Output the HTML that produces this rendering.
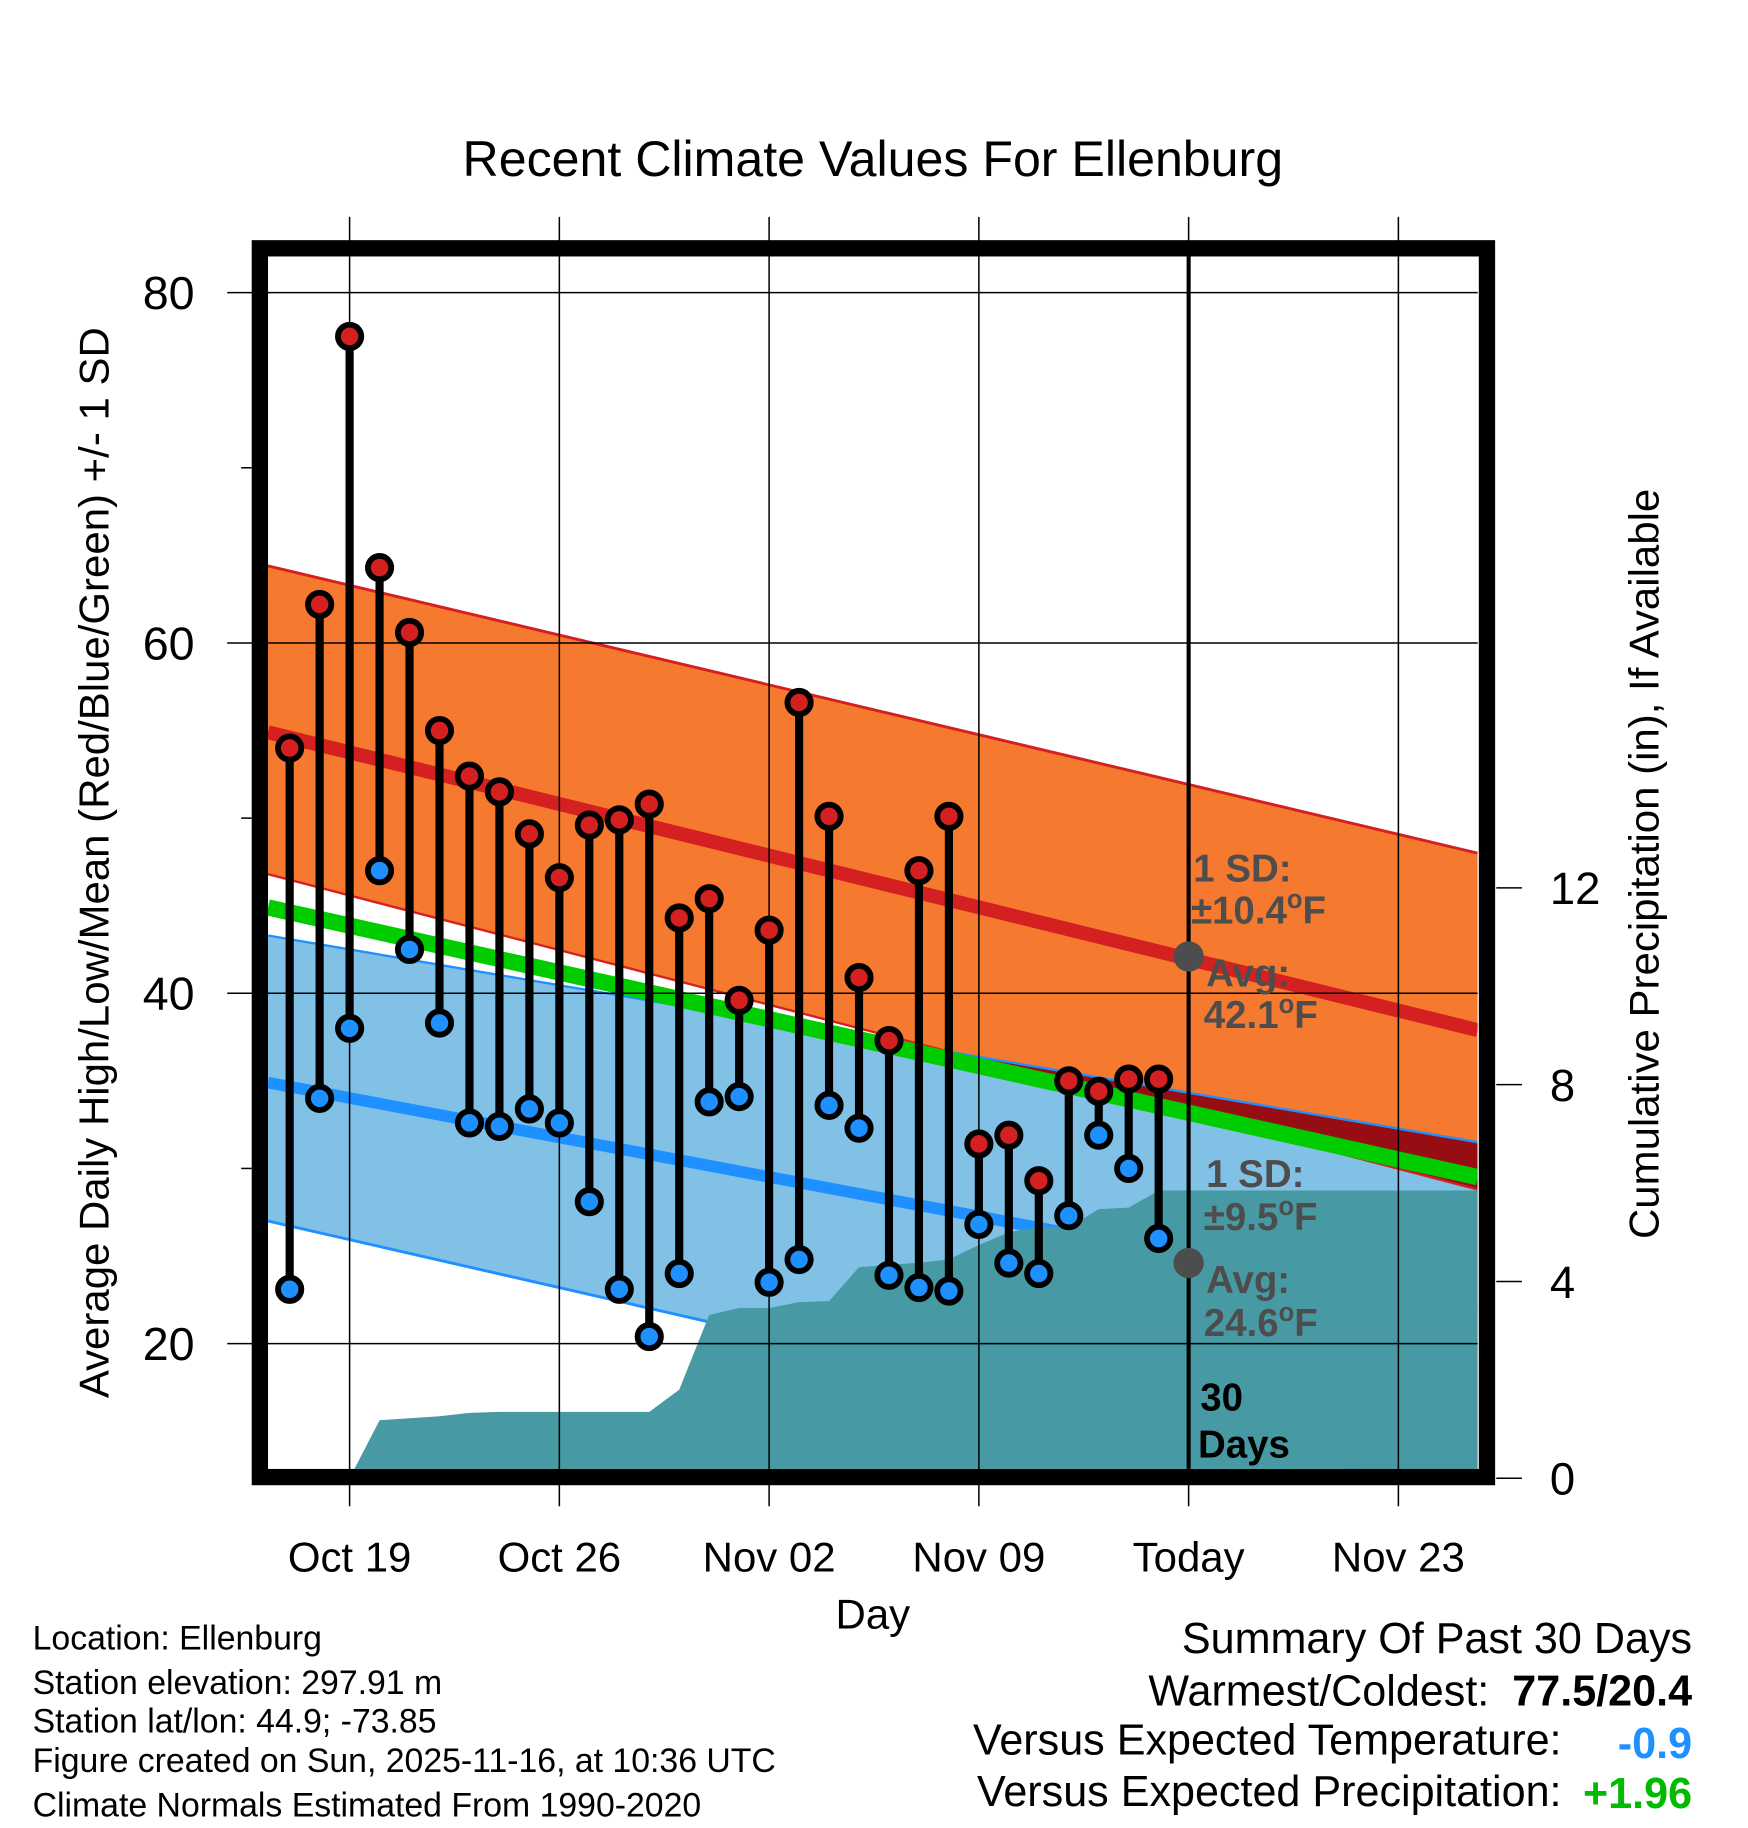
<!DOCTYPE html>
<html><head><meta charset="utf-8"><style>
html,body{margin:0;padding:0;background:#fff}
svg{display:block;font-family:"Liberation Sans",Arial,sans-serif}
</style></head><body>
<svg id="chart" width="1748" height="1828" viewBox="0 0 1500 1568" preserveAspectRatio="none" xmlns="http://www.w3.org/2000/svg">
<defs><clipPath id="plotclip"><rect x="230" y="220" width="1038" height="1040"/></clipPath></defs>
<text x="749" y="151" font-size="43" text-anchor="middle">Recent Climate Values For Ellenburg</text>
<g id="bands" clip-path="url(#plotclip)"></g>
<g id="grid"></g>
<g id="marks" clip-path="url(#plotclip)"></g>
<g id="frame"></g>
<g id="labels"></g>
</svg>
<script>
const dayLabels = ["Oct 19","Oct 26","Nov 02","Nov 09","Today","Nov 23"];
const dayTicks = [0,7,14,21,28,35];
const tempTicks = [80,60,40,20];
const tempMinor = [70,50,30];
const precipTicks = [0,4,8,12];
const obsDays = [-2,-1,0,1,2,3,4,5,6,7,8,9,10,11,12,13,14,15,16,17,18,19,20,21,22,23,24,25,26,27];
const highs = [54,62.2,77.5,64.3,60.6,55,52.4,51.5,49.1,46.6,49.6,49.9,50.8,44.3,45.4,39.6,43.6,56.6,50.1,40.9,37.3,47,50.1,31.4,31.9,29.3,35,34.4,35.1,35.1];
const lows = [23.1,34,38,47,42.5,38.3,32.6,32.4,33.4,32.6,28.1,23.1,20.4,24,33.8,34.1,23.5,24.8,33.6,32.3,23.9,23.2,23,26.8,24.6,24,27.3,31.9,30,26];
const normHighMean = [54.9,37.9];
const normHighUpper = [64.4,48.0];
const normHighLower = [46.8,28.8];
const normLowMean = [34.9,21.9];
const normLowUpper = [43.3,31.5];
const normLowLower = [27.0,11.2];
const overallMean = [44.9,29.5];
const precipDays = [0,1,2,3,4,5,6,7,8,9,10,11,12,13,14,15,16,17,18,19,20,21,22,23,24,25,26,27,28,38];
const precipCum = [0,1.18,1.22,1.26,1.33,1.35,1.35,1.35,1.35,1.35,1.35,1.8,3.32,3.46,3.46,3.58,3.6,4.29,4.34,4.38,4.45,4.74,5.0,5.1,5.1,5.47,5.5,5.85,5.85,5.85];

const NS="http://www.w3.org/2000/svg";
const X0=230,X1=1268,Y0=220,Y1=1260;
const xs=d=>300+d*25.714;
const ys=v=>251+(80-v)*15.025;
const yp=p=>1268-p*42.2;
function mk(parent,tag,attrs){const e=document.createElementNS(NS,tag);for(const k in attrs)e.setAttribute(k,attrs[k]);document.getElementById(parent).appendChild(e);return e;}
function band(up,lo){return `${X0},${ys(up[0])} ${X1},${ys(up[1])} ${X1},${ys(lo[1])} ${X0},${ys(lo[0])}`;}

let e=mk('bands','polygon',{points:band(normLowUpper,normLowLower),fill:'#82c1e6'});


e=mk('bands','polygon',{points:band(normHighUpper,normHighLower),fill:'#f5792e'});


const cp=mk('bands','clipPath',{id:'hiclip'});
const cpp=document.createElementNS(NS,'polygon');cpp.setAttribute('points',band(normHighUpper,normHighLower));cp.appendChild(cpp);
e=mk('bands','polygon',{points:band(normLowUpper,normLowLower),fill:'#960e14','clip-path':'url(#hiclip)'});


mk('bands','line',{x1:X0,y1:ys(normHighUpper[0]),x2:X1,y2:ys(normHighUpper[1]),stroke:'#d42020','stroke-width':2.5});
mk('bands','line',{x1:X0,y1:ys(normHighLower[0]),x2:X1,y2:ys(normHighLower[1]),stroke:'#d42020','stroke-width':2});
mk('bands','line',{x1:X0,y1:ys(normLowUpper[0]),x2:X1,y2:ys(normLowUpper[1]),stroke:'#1e90ff','stroke-width':2});
mk('bands','line',{x1:X0,y1:ys(normLowLower[0]),x2:X1,y2:ys(normLowLower[1]),stroke:'#1e90ff','stroke-width':2.5});
e=mk('bands','line',{x1:X0,y1:ys(overallMean[0]),x2:X1,y2:ys(overallMean[1]),stroke:'#00cc00','stroke-width':14});


e=mk('bands','line',{x1:X0,y1:ys(normHighMean[0]),x2:X1,y2:ys(normHighMean[1]),stroke:'#d42020','stroke-width':12});


e=mk('bands','line',{x1:X0,y1:ys(normLowMean[0]),x2:X1,y2:ys(normLowMean[1]),stroke:'#1e90ff','stroke-width':10});


let pts=precipDays.map((d,i)=>`${xs(d)},${yp(precipCum[i])}`);
pts.push(`${xs(precipDays[precipDays.length-1])},${yp(0)}`,`${xs(0)},${yp(0)}`);
e=mk('bands','polygon',{points:pts.join(' '),fill:'#479aa3'});



dayTicks.forEach((d,i)=>{
  let g=mk('grid','line',{x1:xs(d),y1:186,x2:xs(d),y2:1292,stroke:'#000','stroke-width':1.3});
  
  
  let t=mk('labels','text',{x:xs(d),y:1348,'font-size':36,'text-anchor':'middle'});t.textContent=dayLabels[i];
  
  
});
tempTicks.forEach(v=>{
  let g=mk('grid','line',{x1:195,y1:ys(v),x2:X1,y2:ys(v),stroke:'#000','stroke-width':1.3});
  
  
  let t=mk('labels','text',{x:167,y:ys(v)+14,'font-size':40,'text-anchor':'end'});t.textContent=v;
  
  
});
tempMinor.forEach(v=>{mk('grid','line',{x1:207,y1:ys(v),x2:216,y2:ys(v),stroke:'#000','stroke-width':1.3});});
precipTicks.forEach(p=>{
  mk('grid','line',{x1:1284,y1:yp(p),x2:1306,y2:yp(p),stroke:'#000','stroke-width':1.3});
  let t=mk('labels','text',{x:1330,y:yp(p)+14,'font-size':39});t.textContent=p;
  
  
});

e=mk('marks','line',{x1:xs(28),y1:Y0,x2:xs(28),y2:Y1,stroke:'#000','stroke-width':3.5});


obsDays.forEach((d,i)=>{
  let s=mk('marks','line',{x1:xs(d),y1:ys(highs[i]),x2:xs(d),y2:ys(lows[i]),stroke:'#000','stroke-width':7});
  
  
});
obsDays.forEach((d,i)=>{
  let c=mk('marks','circle',{cx:xs(d),cy:ys(highs[i]),r:10,fill:'#d42020',stroke:'#000','stroke-width':5});
  
  
  c=mk('marks','circle',{cx:xs(d),cy:ys(lows[i]),r:10,fill:'#1e90ff',stroke:'#000','stroke-width':5});
  
  
});
const todayHigh = 42.1, todayLow = 24.6;
mk('marks','circle',{cx:xs(28),cy:ys(todayHigh),r:13,fill:'#4d4d4d'});
mk('marks','circle',{cx:xs(28),cy:ys(todayLow),r:13,fill:'#4d4d4d'});

e=mk('frame','rect',{x:223,y:213,width:1053,height:1054,fill:'none',stroke:'#000','stroke-width':14});



function txt(x,y,s,str,extra){let t=mk('labels','text',Object.assign({x:x,y:y,'font-size':s},extra||{}));t.innerHTML=str;return t;}
const gs={fill:'#4d4d4d','font-weight':'bold'};
const deg='<tspan dy="-13" font-size="22">o</tspan><tspan dy="13">F</tspan>';
txt(1024,756,33,'1 SD:',gs);
txt(1022,792,33,'±10.4'+deg,gs);
txt(1035,846,33,'Avg:',gs);
txt(1033,882,33,'42.1'+deg,gs);
txt(1035,1018,33,'1 SD:',gs);
txt(1033,1055,33,'±9.5'+deg,gs);
txt(1035,1109,33,'Avg:',gs);
txt(1033,1146,33,'24.6'+deg,gs);
txt(1030,1210,33,'30',{'font-weight':'bold'});
txt(1028,1250,33,'Days',{'font-weight':'bold'});

txt(749,1397,36,'Day',{'text-anchor':'middle'});
txt(93,740,36,'Average Daily High/Low/Mean (Red/Blue/Green) +/- 1 SD',{'text-anchor':'middle',transform:'rotate(-90 93 740)'});
txt(1423,741,36,'Cumulative Precipitation (in), If Available',{'text-anchor':'middle',transform:'rotate(-90 1423 741)'});

const foot=['Location: Ellenburg','Station elevation: 297.91 m','Station lat/lon: 44.9; -73.85','Figure created on Sun, 2025-11-16, at 10:36 UTC','Climate Normals Estimated From 1990-2020'];
const footY=[1415,1453,1486,1520,1558];
foot.forEach((s,i)=>{let t=txt(28,footY[i],29,s);});
txt(1452,1418,37,'Summary Of Past 30 Days',{'text-anchor':'end'});
txt(1278,1463,37,'Warmest/Coldest:',{'text-anchor':'end'});
txt(1452,1463,37,'77.5/20.4',{'text-anchor':'end','font-weight':'bold'});
txt(1340,1505,37,'Versus Expected Temperature:',{'text-anchor':'end'});
txt(1452,1508,37,'-0.9',{'text-anchor':'end','font-weight':'bold',fill:'#1e90ff'});
txt(1340,1549,37,'Versus Expected Precipitation:',{'text-anchor':'end'});
txt(1452,1551,37,'+1.96',{'text-anchor':'end','font-weight':'bold',fill:'#00bb00'});
</script>
</body></html>
